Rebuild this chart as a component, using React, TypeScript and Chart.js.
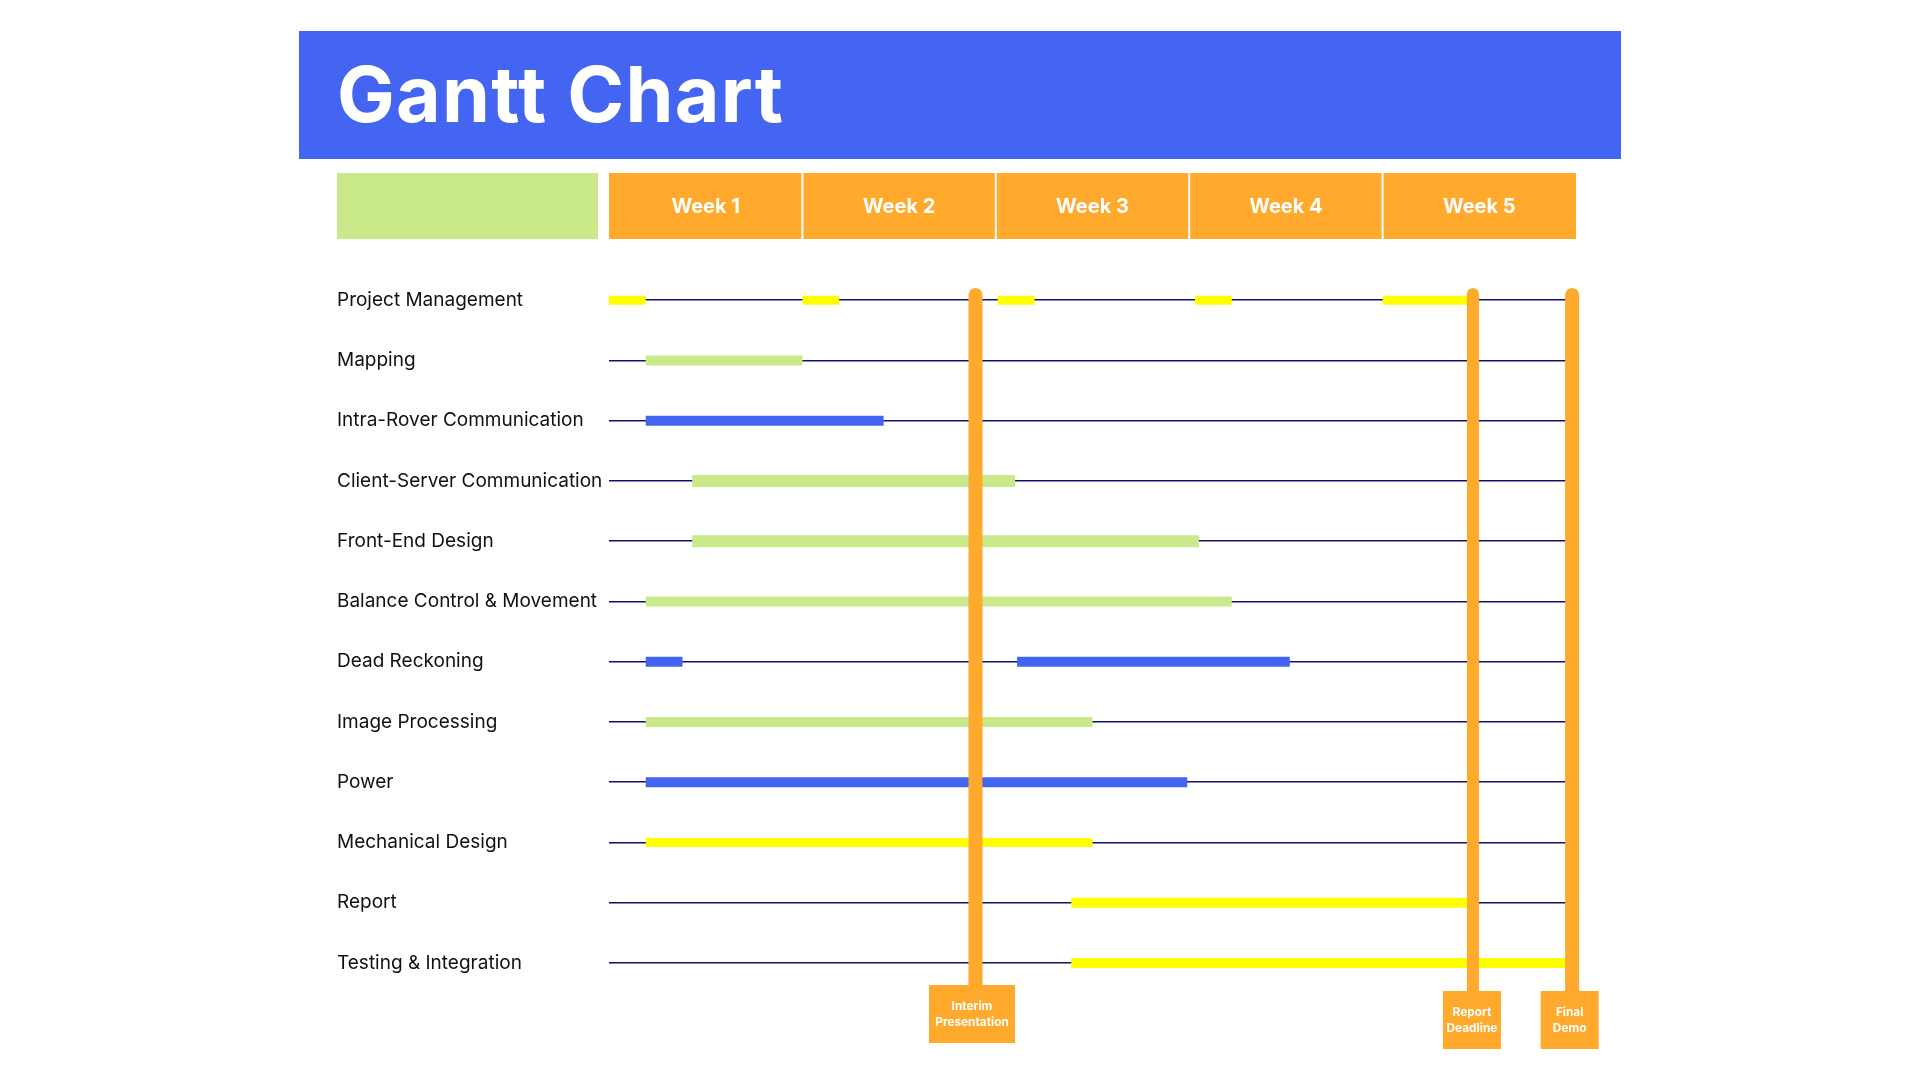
import React, { useEffect, useRef } from "react";
import { Chart, registerables } from "chart.js";

Chart.register(...registerables);

// ---------- data ----------
const TITLE = "Gantt Chart";

const tasks = [
  "Project Management",
  "Mapping",
  "Intra-Rover Communication",
  "Client-Server Communication",
  "Front-End Design",
  "Balance Control & Movement",
  "Dead Reckoning",
  "Image Processing",
  "Power",
  "Mechanical Design",
  "Report",
  "Testing & Integration",
];

const weekLabels = ["Week 1", "Week 2", "Week 3", "Week 4", "Week 5"];

// [start, end] in weeks (0 = start of Week 1)
const projectManagement: [number, number][] = [
  [0.0, 0.19],
  [1.0, 1.19],
  [2.01, 2.2],
  [3.03, 3.22],
  [4.0, 4.44],
];
const mapping: [number, number][] = [[0.19, 1.0]];
const intraRover: [number, number][] = [[0.19, 1.42]];
const clientServer: [number, number][] = [[0.43, 2.1]];
const frontEnd: [number, number][] = [[0.43, 3.05]];
const balanceControl: [number, number][] = [[0.19, 3.22]];
const deadReckoning: [number, number][] = [
  [0.19, 0.38],
  [2.11, 3.52],
];
const imageProcessing: [number, number][] = [[0.19, 2.5]];
const power: [number, number][] = [[0.19, 2.99]];
const mechanicalDesign: [number, number][] = [[0.19, 2.5]];
const report: [number, number][] = [[2.39, 4.44]];
const testing: [number, number][] = [[2.39, 4.96]];

const taskSegments = [
  projectManagement,
  mapping,
  intraRover,
  clientServer,
  frontEnd,
  balanceControl,
  deadReckoning,
  imageProcessing,
  power,
  mechanicalDesign,
  report,
  testing,
];

const taskColorKeys = [
  "yellow",
  "green",
  "blue",
  "green",
  "green",
  "green",
  "blue",
  "green",
  "blue",
  "yellow",
  "yellow",
  "yellow",
];

const milestoneWeeks = [1.895, 4.467, 4.98];
const milestoneLabels = [
  ["Interim", "Presentation"],
  ["Report", "Deadline"],
  ["Final", "Demo"],
];

// ---------- styles ----------
const COLORS: Record<string, string> = {
  yellow: "#FFFF00",
  green: "#C9E98A",
  blue: "#4364F0",
};
const BANNER = "#4365F1";
const ORANGE = "#FFA92D";
const GRID = "#12126C";
const FONT = "Inter, 'Noto Sans', sans-serif";
const barThick = [9, 10, 10, 12, 12, 10, 10, 10, 10, 9, 10, 10];
const msBarW = [14, 12, 14];
const msBoxW = [86, 58, 58];
const msBoxDx = [-3.5, -1, -2.5];
const msBoxTop = [985, 991, 991];
const msBoxH = 58;

const decorPlugin = {
  id: "ganttDecor",
  beforeDraw(chart: any) {
    const ctx: CanvasRenderingContext2D = chart.ctx;
    const xs = chart.scales.x;
    ctx.save();
    // banner
    ctx.fillStyle = BANNER;
    ctx.fillRect(299, 31, 1322, 128);
    ctx.fillStyle = "#ffffff";
    ctx.font = `700 77px ${FONT}`;
    (ctx as any).letterSpacing = "1.3px";
    ctx.textAlign = "left";
    ctx.textBaseline = "alphabetic";
    ctx.fillText(TITLE, 337, 122);
    (ctx as any).letterSpacing = "0px";

    // header: label cell
    ctx.fillStyle = COLORS.green;
    ctx.fillRect(337, 173, 261, 66);

    // header: week cells
    weekLabels.forEach((w, i) => {
      const l = xs.getPixelForValue(i);
      const r = xs.getPixelForValue(i + 1);
      const left = l + (i > 0 ? 1 : 0);
      const right = i < weekLabels.length - 1 ? r - 1 : r;
      ctx.fillStyle = ORANGE;
      ctx.fillRect(left, 173, right - left, 66);
      ctx.fillStyle = "#ffffff";
      ctx.font = `700 20px ${FONT}`;
      ctx.textAlign = "center";
      ctx.textBaseline = "middle";
      ctx.fillText(w, (l + r) / 2, 207);
    });
    ctx.restore();
  },
  afterDatasetsDraw(chart: any) {
    const ctx: CanvasRenderingContext2D = chart.ctx;
    const xs = chart.scales.x;
    const top = chart.chartArea.top + 18;
    ctx.save();
    milestoneWeeks.forEach((w, i) => {
      const cx = xs.getPixelForValue(w);
      const bw = msBarW[i];
      const boxTop = msBoxTop[i];
      ctx.fillStyle = ORANGE;
      ctx.beginPath();
      (ctx as any).roundRect(cx - bw / 2, top, bw, boxTop - top + 1, [bw / 2, bw / 2, 0, 0]);
      ctx.fill();
      const boxW = msBoxW[i];
      const bcx = cx + msBoxDx[i];
      ctx.fillRect(bcx - boxW / 2, boxTop, boxW, msBoxH);
      ctx.fillStyle = "#ffffff";
      ctx.font = `700 11.8px ${FONT}`;
      ctx.textAlign = "center";
      ctx.textBaseline = "middle";
      const cy = boxTop + msBoxH / 2;
      const lines = milestoneLabels[i];
      lines.forEach((t, k) => {
        ctx.fillText(t, bcx, cy + (k - (lines.length - 1) / 2) * 16);
      });
    });
    ctx.restore();
  },
};

export default function App() {
  const ref = useRef<HTMLCanvasElement>(null);

  useEffect(() => {
    const datasets: any[] = [];
    taskSegments.forEach((segs, ti) => {
      segs.forEach((seg) => {
        datasets.push({
          label: tasks[ti],
          data: tasks.map((_, j) => (j === ti ? seg : null)),
          backgroundColor: COLORS[taskColorKeys[ti]],
          borderWidth: 0,
          borderSkipped: false,
          grouped: false,
          maxBarThickness: barThick[ti],
        });
      });
    });

    const chart = new Chart(ref.current!, {
      type: "bar",
      data: { labels: tasks, datasets },
      plugins: [decorPlugin],
      options: {
        indexAxis: "y",
        responsive: false,
        maintainAspectRatio: false,
        devicePixelRatio: 1,
        animation: false,
        layout: { padding: { left: 337, right: 344, top: 270, bottom: 87 } },
        plugins: {
          legend: { display: false },
          tooltip: { enabled: false },
        },
        scales: {
          x: {
            type: "linear",
            min: 0,
            max: 5,
            display: false,
          },
          y: {
            type: "category",
            position: "left",
            offset: true,
            border: { display: false },
            grid: {
              offset: false,
              color: GRID,
              lineWidth: 1.4,
              drawTicks: false,
            },
            ticks: {
              autoSkip: false,
              crossAlign: "far",
              padding: 0,
              color: "#111111",
              font: { family: FONT, size: 19 },
            },
            afterFit: (s: any) => {
              s.width = 609 - 337;
            },
          },
        },
      } as any,
    });
    return () => chart.destroy();
  }, []);

  return (
    <div
      style={{
        position: "absolute",
        left: 0,
        top: 0,
        width: 1920,
        height: 1080,
        background: "#ffffff",
      }}
    >
      <canvas
        ref={ref}
        width={1920}
        height={1080}
        style={{ width: 1920, height: 1080, display: "block" }}
      />
    </div>
  );
}
